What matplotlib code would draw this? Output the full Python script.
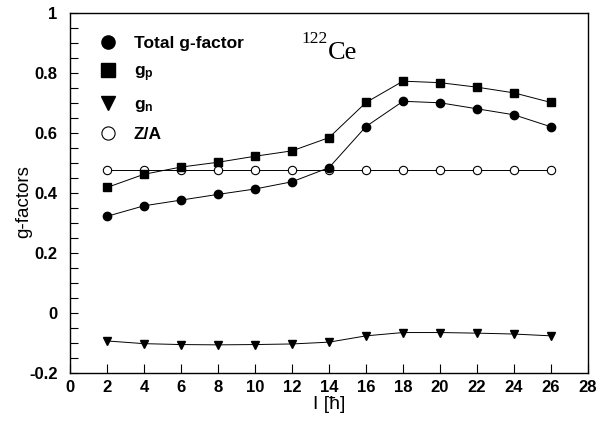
import numpy as np
import matplotlib
matplotlib.use("Agg")
import matplotlib.pyplot as plt
from matplotlib.ticker import MultipleLocator

plt.rcParams['font.family'] = ['Liberation Sans', 'DejaVu Sans']
plt.rcParams['mathtext.fontset'] = 'custom'
plt.rcParams['mathtext.rm'] = 'Liberation Sans'
plt.rcParams['mathtext.bf'] = 'Liberation Sans:bold'

# spin values I [hbar]
spin = [2, 4, 6, 8, 10, 12, 14, 16, 18, 20, 22, 24, 26]

# g-factors
g_total = [0.322, 0.357, 0.376, 0.395, 0.413, 0.437, 0.484, 0.621, 0.705, 0.700, 0.680, 0.660, 0.620]
g_p = [0.418, 0.462, 0.486, 0.502, 0.522, 0.540, 0.584, 0.701, 0.772, 0.767, 0.752, 0.733, 0.701]
g_n = [-0.093, -0.102, -0.105, -0.106, -0.105, -0.103, -0.097, -0.076, -0.065, -0.065, -0.067, -0.070, -0.076]
z_over_a = [58 / 122] * len(spin)

fig = plt.figure(figsize=(6.0, 4.23), dpi=100)
ax = fig.add_axes([0.1167, 0.118, 0.8633, 0.852])

lw = 0.7
ms = 6
ax.plot(spin, z_over_a, color='black', lw=lw, marker='o', ms=ms,
        mfc='white', mec='black', mew=0.8, label='Z/A', zorder=2)
ax.plot(spin, g_total, color='black', lw=lw, marker='o', ms=ms,
        label='Total g-factor', zorder=3)
ax.plot(spin, g_p, color='black', lw=lw, marker='s', ms=ms - 0.5,
        label=r'$\mathbf{g_p}$', zorder=3)
ax.plot(spin, g_n, color='black', lw=lw, marker='v', ms=ms,
        label=r'$\mathbf{g_n}$', zorder=3)

ax.set_xlim(0, 28)
ax.set_ylim(-0.2, 1.0)
ax.xaxis.set_major_locator(MultipleLocator(2))
ax.yaxis.set_minor_locator(MultipleLocator(0.05))
ax.set_yticks(np.arange(-0.2, 1.01, 0.2))
ax.set_yticklabels(['-0.2', '0', '0.2', '0.4', '0.6', '0.8', '1'])

ax.tick_params(which='both', direction='in', top=False, right=False,
               labelsize=12, width=0.8)
ax.tick_params(axis='x', which='major', length=6.5, pad=5)
ax.tick_params(axis='y', which='major', length=5.5, pad=9)
ax.tick_params(axis='y', which='minor', length=5.5)
for lab in ax.get_xticklabels() + ax.get_yticklabels():
    lab.set_fontweight('bold')
for sp in ax.spines.values():
    sp.set_linewidth(1.0)

ax.set_xlabel(u'I [\u0127]', fontsize=14, labelpad=1)
ax.set_ylabel('g-factors', fontsize=13.5)
ax.yaxis.set_label_coords(-0.073, 0.475)

# nucleus label
ax.text(13.95, 0.845, 'Ce', fontsize=19, family='Liberation Serif',
        va='baseline', ha='left')
ax.text(12.5, 0.898, '122', fontsize=12.5, family='Liberation Serif',
        va='baseline', ha='left')

handles, labels = ax.get_legend_handles_labels()
order = [1, 2, 3, 0]
leg = ax.legend([handles[i] for i in order], [labels[i] for i in order],
                loc='upper left', bbox_to_anchor=(0.059, 0.955),
                frameon=False, handlelength=0, handletextpad=1.5,
                labelspacing=0.75, borderaxespad=0,
                prop={'weight': 'bold', 'size': 12.5})
for h in leg.legend_handles:
    h.set_markersize(9.5)

fig.savefig('out.png', dpi=100)
